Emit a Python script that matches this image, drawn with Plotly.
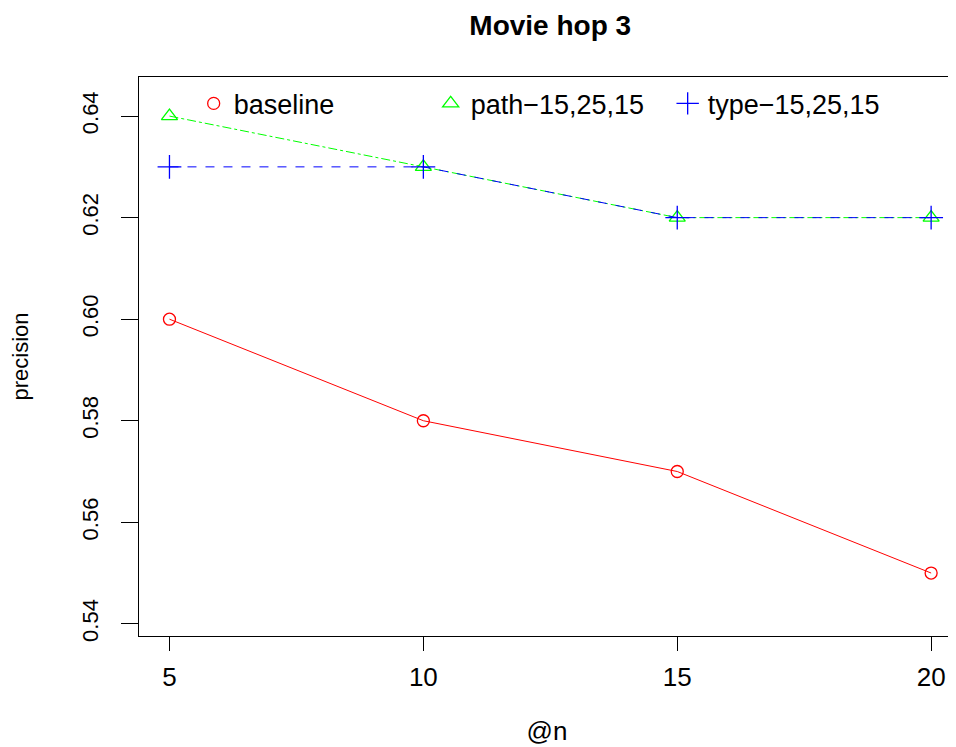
import plotly.graph_objects as go

x_vals = [5, 10, 15, 20]
baseline = [0.60, 0.58, 0.57, 0.55]
path_15_25_15 = [0.64, 0.63, 0.62, 0.62]
type_15_25_15 = [0.63, 0.63, 0.62, 0.62]
y_ticks = [0.54, 0.56, 0.58, 0.60, 0.62, 0.64]
y_tick_labels = ["0.54", "0.56", "0.58", "0.60", "0.62", "0.64"]
x_ticks = [5, 10, 15, 20]

RED = "#FF0000"
GREEN = "#00FF00"
BLUE = "#0000FF"
FONT = "Liberation Sans, Arial, Helvetica, sans-serif"

fig = go.Figure()

series = [
    ("baseline", baseline, RED, "solid", "circle-open", 12),
    ("path\u221215,25,15", path_15_25_15, GREEN, "dashdot", "triangle-up-open", 14),
    ("type\u221215,25,15", type_15_25_15, BLUE, "dash", "cross-thin-open", 17),
]

for name, ys, col, dash, sym, size in series:
    fig.add_trace(go.Scatter(
        x=x_vals, y=ys, mode="lines+markers", showlegend=False,
        line=dict(color=col, width=1, dash=dash),
        marker=dict(symbol=sym, size=size, color=col, line=dict(color=col, width=1.3)),
    ))

for name, ys, col, dash, sym, size in series:
    fig.add_trace(go.Scatter(
        x=[None], y=[None], mode="markers", name=name, showlegend=True,
        marker=dict(symbol=sym, size=size, color=col, line=dict(color=col, width=1.3)),
    ))

fig.update_layout(
    width=948, height=739,
    margin=dict(l=131, r=1, t=69, b=111),
    paper_bgcolor="white", plot_bgcolor="white",
    font=dict(family=FONT, color="black"),
    title=dict(text="<b>Movie hop 3</b>", x=0.572, xanchor="center", y=0.977, yanchor="middle",
               font=dict(size=28, family=FONT, color="black")),
    legend=dict(orientation="h", x=0.067, xanchor="left", y=0.952, yanchor="middle",
                font=dict(size=27, family=FONT), bgcolor="rgba(0,0,0,0)",
                entrywidth=192, entrywidthmode="pixels", itemclick=False),
    showlegend=True,
)

fig.update_xaxes(
    range=[4.4, 20.47], tickvals=x_ticks, ticktext=[str(v) for v in x_ticks],
    showgrid=False, zeroline=False, showline=True, linecolor="black", linewidth=1, mirror=True,
    ticks="outside", ticklen=14, tickcolor="black", tickwidth=1,
    tickfont=dict(size=26, family=FONT), ticklabelstandoff=4,
    title=dict(text="@n", font=dict(size=26, family=FONT), standoff=30),
)
fig.update_yaxes(
    range=[0.5376, 0.6477], tickvals=y_ticks, ticktext=y_tick_labels, tickangle=-90,
    showgrid=False, zeroline=False, showline=True, linecolor="black", linewidth=1, mirror=True,
    ticks="outside", ticklen=17, tickcolor="black", tickwidth=1,
    tickfont=dict(size=22, family=FONT), ticklabelstandoff=14,
    title=dict(text="precision", font=dict(size=22, family=FONT), standoff=52),
)

fig.write_html("out.html")
